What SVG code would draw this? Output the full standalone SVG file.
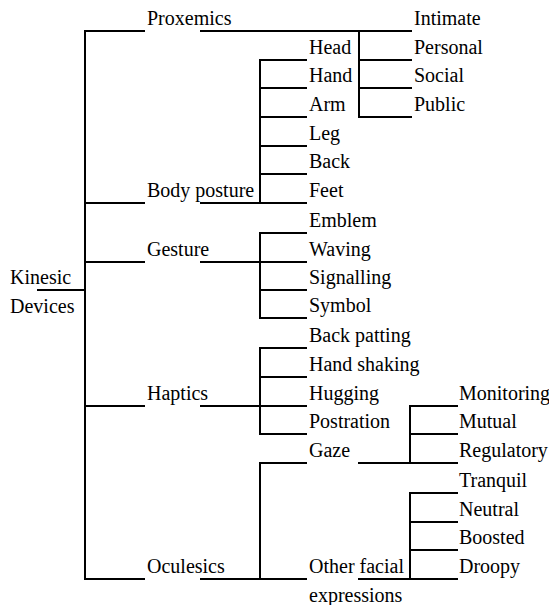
<svg xmlns="http://www.w3.org/2000/svg" width="549" height="605" viewBox="0 0 549 605">
<rect width="549" height="605" fill="#fff"/>
<g id="connectors" fill="none" stroke="#000" stroke-width="2" stroke-linecap="square">
<path d="M38 290H85M85 31V579"/>
<path d="M85 31H144M201 31H411"/>
<path d="M85 203H144M201 203H260"/>
<path d="M85 262H144M201 262H260"/>
<path d="M85 406H144M201 406H260"/>
<path d="M85 579H144M201 579H260"/>
<path d="M359 31V117M359 60H411M359 88H411M359 117H411"/>
<path d="M260 60V203M260 60H306M260 88H306M260 117H306M260 146H306M260 174H306M260 203H306"/>
<path d="M260 233V318M260 233H306M260 262H306M260 290H306M260 318H306"/>
<path d="M260 348V434M260 348H306M260 377H306M260 406H306M260 434H306"/>
<path d="M260 463V579M260 463H306M260 579H306"/>
<path d="M359 463H457M410 406V463M410 406H457M410 434H457"/>
<path d="M359 579H457M410 493V579M410 493H457M410 522H457M410 550H457"/>
</g>
<g id="kinesic"><text x="10" y="284" style="font-family:'Liberation Serif',serif;font-size:20px">Kinesic</text><text x="10" y="313" style="font-family:'Liberation Serif',serif;font-size:20px">Devices</text></g>
<g id="proxemics"><text x="147" y="25" style="font-family:'Liberation Serif',serif;font-size:20px">Proxemics</text></g>
<g id="body-posture"><text x="147" y="197" style="font-family:'Liberation Serif',serif;font-size:20px">Body posture</text></g>
<g id="gesture"><text x="147" y="256" style="font-family:'Liberation Serif',serif;font-size:20px">Gesture</text></g>
<g id="haptics"><text x="147" y="400" style="font-family:'Liberation Serif',serif;font-size:20px">Haptics</text></g>
<g id="oculesics"><text x="147" y="573" style="font-family:'Liberation Serif',serif;font-size:20px">Oculesics</text></g>
<g id="intimate"><text x="414" y="25" style="font-family:'Liberation Serif',serif;font-size:20px">Intimate</text></g>
<g id="personal"><text x="414" y="54" style="font-family:'Liberation Serif',serif;font-size:20px">Personal</text></g>
<g id="social"><text x="414" y="82" style="font-family:'Liberation Serif',serif;font-size:20px">Social</text></g>
<g id="public"><text x="414" y="111" style="font-family:'Liberation Serif',serif;font-size:20px">Public</text></g>
<g id="head"><text x="309" y="54" style="font-family:'Liberation Serif',serif;font-size:20px">Head</text></g>
<g id="hand"><text x="309" y="82" style="font-family:'Liberation Serif',serif;font-size:20px">Hand</text></g>
<g id="arm"><text x="309" y="111" style="font-family:'Liberation Serif',serif;font-size:20px">Arm</text></g>
<g id="leg"><text x="309" y="140" style="font-family:'Liberation Serif',serif;font-size:20px">Leg</text></g>
<g id="back"><text x="309" y="168" style="font-family:'Liberation Serif',serif;font-size:20px">Back</text></g>
<g id="feet"><text x="309" y="197" style="font-family:'Liberation Serif',serif;font-size:20px">Feet</text></g>
<g id="emblem"><text x="309" y="227" style="font-family:'Liberation Serif',serif;font-size:20px">Emblem</text></g>
<g id="waving"><text x="309" y="256" style="font-family:'Liberation Serif',serif;font-size:20px">Waving</text></g>
<g id="signalling"><text x="309" y="284" style="font-family:'Liberation Serif',serif;font-size:20px">Signalling</text></g>
<g id="symbol"><text x="309" y="312" style="font-family:'Liberation Serif',serif;font-size:20px">Symbol</text></g>
<g id="back-patting"><text x="309" y="342" style="font-family:'Liberation Serif',serif;font-size:20px">Back patting</text></g>
<g id="hand-shaking"><text x="309" y="371" style="font-family:'Liberation Serif',serif;font-size:20px">Hand shaking</text></g>
<g id="hugging"><text x="309" y="400" style="font-family:'Liberation Serif',serif;font-size:20px">Hugging</text></g>
<g id="postration"><text x="309" y="428" style="font-family:'Liberation Serif',serif;font-size:20px">Postration</text></g>
<g id="gaze"><text x="309" y="457" style="font-family:'Liberation Serif',serif;font-size:20px">Gaze</text></g>
<g id="other-facial"><text x="309" y="573" style="font-family:'Liberation Serif',serif;font-size:20px">Other facial</text><text x="309" y="602" style="font-family:'Liberation Serif',serif;font-size:20px">expressions</text></g>
<g id="monitoring"><text x="459" y="400" style="font-family:'Liberation Serif',serif;font-size:20px">Monitoring</text></g>
<g id="mutual"><text x="459" y="428" style="font-family:'Liberation Serif',serif;font-size:20px">Mutual</text></g>
<g id="regulatory"><text x="459" y="457" style="font-family:'Liberation Serif',serif;font-size:20px">Regulatory</text></g>
<g id="tranquil"><text x="459" y="487" style="font-family:'Liberation Serif',serif;font-size:20px">Tranquil</text></g>
<g id="neutral"><text x="459" y="516" style="font-family:'Liberation Serif',serif;font-size:20px">Neutral</text></g>
<g id="boosted"><text x="459" y="544" style="font-family:'Liberation Serif',serif;font-size:20px">Boosted</text></g>
<g id="droopy"><text x="459" y="573" style="font-family:'Liberation Serif',serif;font-size:20px">Droopy</text></g>
</svg>
